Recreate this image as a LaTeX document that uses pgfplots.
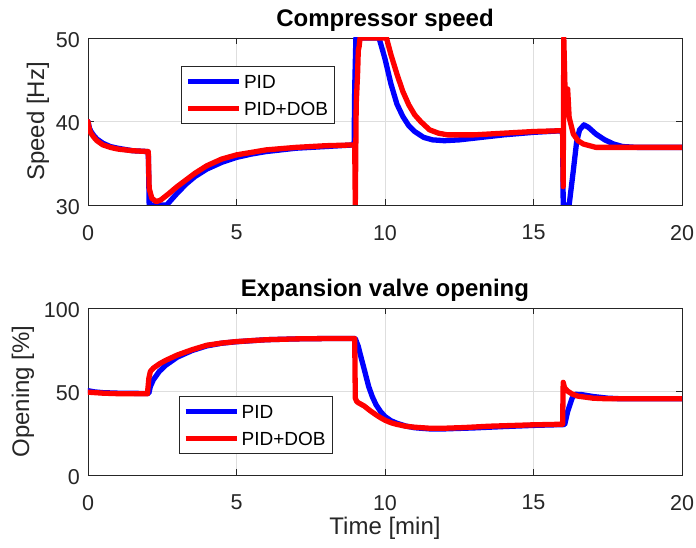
\documentclass[border=0pt]{standalone}
\usepackage{pgfplots}
\pgfplotsset{compat=1.18}
\usepackage{fontspec}
\setmainfont{Liberation Sans}
\definecolor{mblue}{rgb}{0,0,1}
\definecolor{mred}{rgb}{1,0,0}
\definecolor{axgray}{rgb}{0.15,0.15,0.15}
\pgfplotsset{
  mystyle/.style={
    scale only axis, width=594pt, height=167pt,
    xmin=0, xmax=20, xtick={0,5,10,15,20},
    grid=major, major grid style={color=black!13, line width=0.6pt},
    axis line style={color=axgray, line width=0.7pt},
    tick style={color=axgray, line width=0.7pt},
    major tick length=6pt,
    tick label style={font=\fontsize{21.5}{25}\selectfont, text=axgray},
    xticklabel style={inner sep=0pt, anchor=north, yshift=-20pt},
    yticklabel style={inner sep=0pt, anchor=east, xshift=-8pt, yshift=-2pt},
    /pgf/number format/assume math mode=true,
    label style={font=\fontsize{24}{28}\selectfont, text=axgray},
    title style={font=\bfseries\fontsize{24}{28}\selectfont, at={(0.5,1)}, anchor=base, yshift=5pt},
    legend style={font=\fontsize{19}{22}\selectfont, draw=axgray, line width=0.6pt,
      inner xsep=4pt, inner ysep=1.5pt, cells={anchor=west},
      nodes={inner xsep=2.5pt, inner ysep=6.5pt, text height=14pt, text depth=0pt},
      anchor=north west},
    legend image code/.code={\draw[line width=5pt, line cap=butt] (0pt,0pt) -- (51pt,0pt);},
    every axis plot/.append style={line width=5.3pt, line join=round, line cap=round},
  }
}
\begin{document}
\begin{tikzpicture}[x=1pt,y=1pt]
\path[use as bounding box] (0,0) rectangle (696,548);
\begin{axis}[mystyle, at={(88pt,343pt)}, anchor=south west,
  ymin=30, ymax=50, ytick={30,40,50},
  title={Compressor speed}, ylabel={Speed [Hz]},
  ylabel style={at={(axis description cs:-0.0842,0.5)}, anchor=center},
  legend style={at={(0.157,0.832)}}]
\addplot[mblue] coordinates {
(0,40) (0.05,39.2) (0.1,38.8) (0.2,38.3) (0.3,37.9) (0.5,37.4) (0.75,37.0) (1,36.8) (1.5,36.5) (2.0,36.4) (2.03,36.3) (2.06,30)
(2.65,30) (2.8,30.6) (3.0,31.4) (3.3,32.5) (3.6,33.4) (4.0,34.3) (4.5,35.1) (5,35.7) (5.5,36.1) (6,36.4) (7,36.8) (8,37.0) (8.96,37.2)
(8.98,44) (9.02,50) (9.8,50) (10.0,47.5) (10.2,44.5) (10.4,42.1) (10.6,40.6) (10.8,39.5) (11.0,38.8) (11.3,38.1) (11.6,37.8) (12,37.7)
(12.5,37.8) (13,38.0) (14,38.4) (15,38.7) (15.98,38.9) (16.0,30) (16.2,30) (16.34,34.1) (16.45,37.5) (16.55,39.0) (16.7,39.6) (16.85,39.3)
(17.1,38.5) (17.4,37.8) (17.7,37.3) (18,37.0) (18.5,36.9) (20,36.9)
};
\addlegendentry{PID}
\addplot[mred] coordinates {
(0,40) (0.05,39.0) (0.1,38.6) (0.2,38.1) (0.3,37.7) (0.5,37.2) (0.75,36.9) (1,36.7) (1.5,36.5) (2.03,36.4) (2.06,32) (2.15,30.8) (2.3,30.4)
(2.45,30.6) (2.7,31.3) (3.0,32.2) (3.3,33.0) (3.6,33.8) (4.0,34.7) (4.5,35.5) (5,36.0) (5.5,36.3) (6,36.6) (7,36.9) (8,37.1) (8.98,37.2)
(9.0,30) (9.03,42) (9.08,46) (9.1,48.5) (9.13,49) (9.16,50) (10.05,50) (10.2,48) (10.4,45.7) (10.6,43.6) (10.8,42) (11,40.8) (11.2,40.0)
(11.5,39.0) (11.8,38.6) (12.1,38.4) (13,38.4) (14,38.6) (15,38.8) (15.98,38.9) (16.0,32.2) (16.02,50) (16.06,44) (16.1,41) (16.15,43.9)
(16.2,40.5) (16.34,38.5) (16.5,37.7) (16.68,37.3) (17.1,36.9) (20,36.9)
};
\addlegendentry{PID+DOB}
\end{axis}
\begin{axis}[mystyle, at={(88pt,73pt)}, anchor=south west,
  ymin=0, ymax=100, ytick={0,50,100},
  title={Expansion valve opening}, ylabel={Opening [\%]}, xlabel={Time [min]},
  ylabel style={at={(axis description cs:-0.1094,0.5)}, anchor=center},
  xlabel style={at={(axis description cs:0.5,-0.317)}, anchor=center},
  legend style={at={(0.153,0.473)}}]
\addplot[mblue] coordinates {
(0,50.5) (0.2,49.8) (0.5,49.3) (1,49) (2.0,48.8) (2.05,49) (2.1,53) (2.2,57) (2.4,62) (2.6,65.5) (3,70.5) (3.5,74.5) (4,77.3) (4.5,78.9)
(5,79.8) (6,81) (7,81.5) (8,81.7) (9.0,81.7) (9.1,77) (9.2,70) (9.3,63.3) (9.45,53) (9.57,47) (9.7,42) (9.85,38) (10,35) (10.2,32.5)
(10.4,31) (10.7,29.3) (11,28.3) (11.5,27.6) (12,27.6) (13,28.2) (14,29) (15,29.7) (16.05,30.2) (16.15,38) (16.3,46) (16.4,48.3)
(16.6,48.2) (17,47) (17.5,46) (18,45.6) (20,45.6)
};
\addlegendentry{PID}
\addplot[mred] coordinates {
(0,49.6) (0.5,49) (1,48.7) (2.0,48.6) (2.05,58) (2.1,62) (2.2,64) (2.4,66.5) (2.6,68.5) (3,71.8) (3.5,75) (4,77.7) (4.5,79) (5,79.9)
(6,81) (7,81.5) (8,81.7) (8.98,81.7) (9.0,46) (9.05,44) (9.1,43.3) (9.3,41.3) (9.5,38.5) (9.7,36) (9.85,34.3) (10,32.8) (10.2,31.3)
(10.4,30.3) (10.7,29.2) (11,28.6) (11.5,28) (12,28) (12.65,28.4) (13.5,29.2) (14.9,30) (15.98,30.4) (16.0,55.5) (16.05,52) (16.15,50.2)
(16.3,48.5) (16.5,47.2) (17,46) (17.5,45.6) (20,45.6)
};
\addlegendentry{PID+DOB}
\end{axis}
\end{tikzpicture}
\end{document}
